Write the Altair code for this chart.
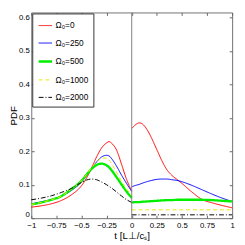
import altair as alt
import pandas as pd

series_names = ["Ω₀=0", "Ω₀=250", "Ω₀=500", "Ω₀=1000", "Ω₀=2000"]

t_left = [-1, -0.9, -0.8, -0.7, -0.6, -0.5, -0.45, -0.4, -0.35, -0.3, -0.25, -0.225, -0.2, -0.15, -0.1, -0.05, 0]
t_right = [0, 0.05, 0.075, 0.1, 0.15, 0.2, 0.25, 0.3, 0.35, 0.4, 0.45, 0.5, 0.6, 0.7, 0.8, 0.9, 1]

red_left = [0.033, 0.037, 0.043, 0.053, 0.07, 0.097, 0.12, 0.15, 0.183, 0.21, 0.225, 0.229, 0.224, 0.203, 0.16, 0.115, 0.082]
blue_left = [0.043, 0.049, 0.056, 0.066, 0.083, 0.108, 0.127, 0.148, 0.168, 0.183, 0.188, 0.186, 0.178, 0.155, 0.128, 0.103, 0.08]
green_left = [0.041, 0.047, 0.055, 0.066, 0.087, 0.112, 0.13, 0.147, 0.159, 0.163, 0.158, 0.152, 0.143, 0.122, 0.1, 0.079, 0.061]
yellow_left = [0.041, 0.047, 0.055, 0.066, 0.087, 0.112, 0.131, 0.151, 0.168, 0.179, 0.18, 0.174, 0.163, 0.137, 0.11, 0.087, 0.068]
black_left = [0.055, 0.06, 0.067, 0.077, 0.089, 0.107, 0.114, 0.117, 0.115, 0.108, 0.1, 0.095, 0.09, 0.078, 0.066, 0.055, 0.047]

red_right = [0.268, 0.282, 0.285, 0.283, 0.266, 0.238, 0.205, 0.172, 0.145, 0.128, 0.116, 0.104, 0.078, 0.056, 0.046, 0.038, 0.031]
blue_right = [0.094, 0.099, 0.101, 0.104, 0.109, 0.113, 0.116, 0.117, 0.117, 0.115, 0.113, 0.109, 0.098, 0.085, 0.072, 0.06, 0.05]
green_right = [0.047, 0.048, 0.048, 0.049, 0.05, 0.051, 0.052, 0.053, 0.054, 0.054, 0.055, 0.055, 0.055, 0.055, 0.054, 0.052, 0.05]
yellow_right = [0.025] * 17
black_right = [0.01] * 17

x_ticks = [-1, -0.75, -0.5, -0.25, 0, 0.25, 0.5, 0.75, 1]
y_ticks = [0, 0.1, 0.2, 0.3, 0.4, 0.5, 0.6]

colors = ["#ff0000", "#0000ff", "#00ee00", "#e8e800", "#000000"]
dashes = [[1, 0], [1, 0], [1, 0], [4, 3], [5, 2, 1, 2]]
widths = [1, 1, 2.4, 1, 1]

lefts = [red_left, blue_left, green_left, yellow_left, black_left]
rights = [red_right, blue_right, green_right, yellow_right, black_right]

rows = []
for name, lv, rv in zip(series_names, lefts, rights):
    for t, v in zip(t_left, lv):
        rows.append({"series": name, "seg": name + "L", "t": t, "pdf": v})
    for t, v in zip(t_right, rv):
        rows.append({"series": name, "seg": name + "R", "t": t, "pdf": v})
df = pd.DataFrame(rows)

xscale = alt.Scale(domain=[-1, 1], nice=False)
yscale = alt.Scale(domain=[0, 0.615], nice=False)

legend = alt.Legend(title=None, orient="top-left", offset=1, padding=5,
                    strokeColor="#333", fillColor="white", symbolType="stroke",
                    symbolSize=190, labelFont="Liberation Sans", labelFontSize=8.5,
                    rowPadding=6, labelOffset=2, labelLimit=60)

lines = alt.Chart(df).mark_line(interpolate="monotone").encode(
    x=alt.X("t:Q", scale=xscale,
            axis=alt.Axis(values=x_ticks, format=".2~f", title="t [L⊥/cₛ]",
                          grid=False, domain=False, tickSize=3, offset=-3,
                          tickColor="#666", labelPadding=4, titlePadding=1,
                          labelFlush=False)),
    y=alt.Y("pdf:Q", scale=yscale,
            axis=alt.Axis(values=y_ticks, format=".1~f", title="PDF",
                          grid=False, domain=False, tickSize=3, offset=-3,
                          tickColor="#666", labelPadding=2, titlePadding=0,
                          minExtent=0,
                          labelBaseline={"condition": {"test": "datum.value == 0", "value": "bottom"},
                                         "value": "middle"})),
    color=alt.Color("series:N", sort=series_names,
                    scale=alt.Scale(domain=series_names, range=colors), legend=legend),
    strokeDash=alt.StrokeDash("series:N", sort=series_names,
                              scale=alt.Scale(domain=series_names, range=dashes), legend=legend),
    strokeWidth=alt.StrokeWidth("series:N", sort=series_names,
                                scale=alt.Scale(type="ordinal", domain=series_names, range=widths),
                                legend=legend),
    detail="seg:N",
    order="t:Q",
)

zero = alt.Chart(pd.DataFrame({"t": [0]})).mark_rule(color="#808080", strokeWidth=1).encode(
    x=alt.X("t:Q", scale=xscale,
            axis=alt.Axis(orient="top", values=x_ticks, labels=False, title=None, grid=False,
                          domain=False, tickSize=3, offset=-3, tickColor="#666",
                          minExtent=0, maxExtent=0)),
)

right_axis = alt.Chart(pd.DataFrame({"pdf": [0]})).mark_rule(opacity=0).encode(
    y=alt.Y("pdf:Q", scale=yscale,
            axis=alt.Axis(orient="right", values=y_ticks, labels=False, title=None, grid=False,
                          domain=False, tickSize=3, offset=-3, tickColor="#666",
                          minExtent=0, maxExtent=0)),
)

chart = alt.layer(lines, zero, right_axis).resolve_axis(
    x="independent", y="independent"
).properties(
    width=236, height=236,
    autosize=alt.AutoSizeParams(type="fit", contains="padding"),
    padding=0,
).configure_view(
    stroke="#707070"
).configure_axis(
    labelFont="Liberation Sans", labelFontSize=8, titleFont="Liberation Sans",
    titleFontSize=10, titleFontWeight="normal", labelColor="black", titleColor="black",
)

chart.save("out.html", embed_options={"renderer": "svg", "actions": False})
